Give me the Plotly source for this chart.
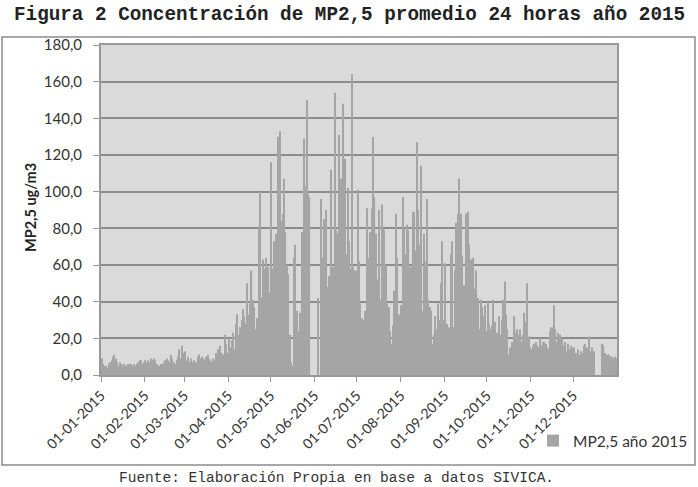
import pandas as pd
import plotly.graph_objects as go

N = None
jan = [9,6,5,5,4,6,7,8,10,11,9,7,5,7,6,5,6,5,5,6,6,6,5,6,5,6,7,8,8,6,7]
feb = [8,7,8,7,9,8,9,8,6,5,5,6,6,7,8,9,8,7,11,9,7,6,8,10,14,9,16,12]
mar = [13,8,10,7,9,7,8,6,7,10,11,9,10,9,8,10,11,9,8,7,9,8,12,14,10,16,12,11,22,17,12]
apr = [20,15,19,23,14,28,33,22,26,30,36,32,28,50,33,39,57,41,37,25,31,81,100,42,63,58,64,55,59,45]
may = [116,58,73,77,75,130,133,84,88,107,78,60,55,22,7,5,64,71,35,24,34,28,78,129,103,150,99,97,N,N,N]
jun = [N,N,42,N,96,64,85,62,90,48,54,112,46,59,154,79,77,131,107,59,148,118,66,102,73,58,164,59,57,57]
jul = [101,62,39,31,30,35,24,91,64,78,91,130,97,77,52,90,41,93,80,79,60,39,37,24,17,27,46,88,64,33,26]
aug = [38,97,80,66,82,79,59,59,89,89,68,127,90,71,114,35,77,62,96,41,37,35,17,22,32,25,39,30,50,73,30]
sep = [61,28,24,26,66,73,26,57,83,88,107,88,65,49,41,88,89,71,63,47,64,47,57,42,25,41,37,32,38,24]
oct_ = [40,28,25,27,41,29,18,23,32,22,30,41,51,33,25,11,15,18,17,32,23,25,22,25,18,22,34,29,50,21,15]
nov = [14,16,17,18,16,15,20,16,18,18,17,15,14,24,26,26,38,25,18,23,22,17,20,16,18,13,17,14,16,15]
dec = [15,12,12,14,11,13,12,16,17,15,14,21,13,15,13,N,N,N,N,N,17,16,12,11,11,11,10,10,9,10,9]

values = jan + feb + mar + apr + may + jun + jul + aug + sep + oct_ + nov + dec
days = pd.date_range("2015-01-01", periods=len(values), freq="D") + pd.Timedelta(hours=12)

tick_vals = [f"2015-{m:02d}-01" for m in range(1, 13)]
tick_text = [f"01-{m:02d}-2015" for m in range(1, 13)]
series_name = "MP2,5 año 2015"

fig = go.Figure()
fig.add_trace(go.Bar(
    x=days, y=values, name=series_name,
    marker=dict(color="#a5a5a5", line=dict(width=0)),
    showlegend=True,
))

L, R, T, B = 101, 81, 45, 112
W, H = 698, 487
pw, ph = W - L - R, H - T - B

def px(x):
    return (x - L) / pw

def py(y):
    return (H - B - y) / ph

fig.update_layout(
    width=W, height=H,
    margin=dict(l=L, r=R, t=T, b=B, autoexpand=False),
    paper_bgcolor="white",
    plot_bgcolor="#dadada",
    bargap=0.18,
    separators=",.",
    font=dict(family="Lato, Open Sans, sans-serif", color="#333333"),
    xaxis=dict(
        type="date",
        range=["2015-01-01", "2016-01-01"],
        tickvals=tick_vals, ticktext=tick_text,
        tickangle=-45,
        tickfont=dict(size=14, color="#333333"),
        ticks="outside", ticklen=5, tickcolor="#999999", tickwidth=1,
        showgrid=False,
        showline=True, linecolor="#999999", linewidth=2, mirror=True,
        zeroline=False,
    ),
    yaxis=dict(
        range=[0, 180], dtick=20, tickformat=".1f",
        tickfont=dict(size=15, color="#333333"),
        ticks="outside", ticklen=6, tickcolor="#999999", tickwidth=1,
        ticklabelstandoff=8,
        showgrid=True, gridcolor="#8c8c8c", gridwidth=1.5,
        showline=True, linecolor="#999999", linewidth=2, mirror=True,
        zeroline=False,
    ),
    legend=dict(
        x=px(533), y=py(441), xanchor="left", yanchor="middle",
        font=dict(size=15.5, color="#333333"),
        bgcolor="rgba(0,0,0,0)",
        itemwidth=30,
    ),
    shapes=[dict(
        type="rect", xref="paper", yref="paper",
        x0=px(2), x1=px(695), y0=py(465), y1=py(37),
        line=dict(color="#8c8c8c", width=1.5), fillcolor="rgba(0,0,0,0)",
        layer="below",
    )],
    annotations=[
        dict(text="<b>Figura 2 Concentración de MP2,5 promedio 24 horas año 2015</b>",
             xref="paper", yref="paper", x=px(349), y=py(15),
             xanchor="center", yanchor="middle", showarrow=False,
             font=dict(family="Liberation Mono, Courier New, monospace", size=19.3, color="#222222")),
        dict(text="Fuente: Elaboración Propia en base a datos SIVICA.",
             xref="paper", yref="paper", x=px(336), y=py(478),
             xanchor="center", yanchor="middle", showarrow=False,
             font=dict(family="Liberation Mono, Courier New, monospace", size=14.5, color="#333333")),
        dict(text="<b>MP2,5 ug/m3</b>",
             xref="paper", yref="paper", x=px(30), y=py(208),
             xanchor="center", yanchor="middle", showarrow=False, textangle=-90,
             font=dict(family="Lato, Open Sans, sans-serif", size=14.5, color="#222222")),
    ],
)

fig.write_html("out.html", config={"displayModeBar": False},
               post_script="document.body.style.margin='0';document.body.style.overflow='hidden';")
